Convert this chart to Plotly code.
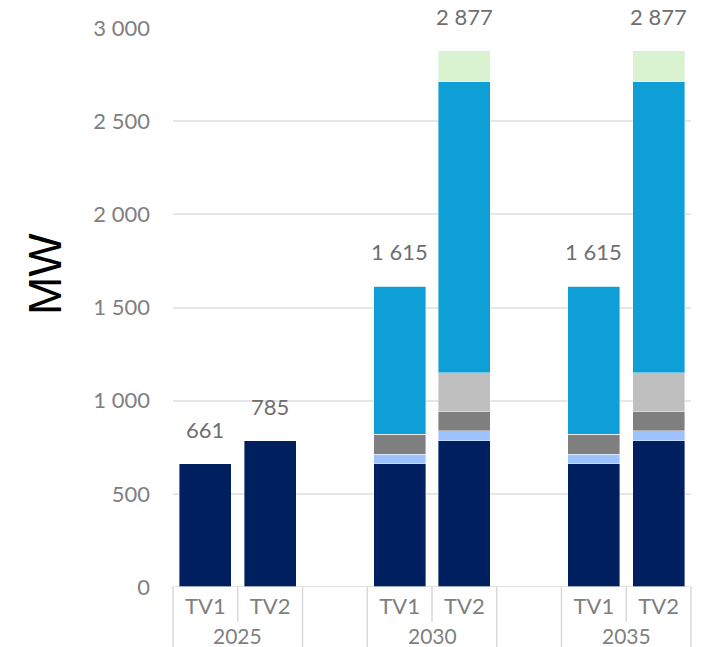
import plotly.graph_objects as go

# ---- data ----
categories = ["2025 TV1", "2025 TV2", "gap1", "2030 TV1", "2030 TV2", "gap2", "2035 TV1", "2035 TV2"]
tick_labels = ["TV1", "TV2", "", "TV1", "TV2", "", "TV1", "TV2"]
years = ["2025", "2030", "2035"]
year_slots = [(0, 2), (3, 5), (6, 8)]  # slot ranges (start, end) of each year group

series_names = ["Série 1", "Série 2", "Série 3", "Série 4", "Série 5", "Série 6"]
s1 = [661, 785, None, 661, 785, None, 661, 785]
s2 = [0, 0, None, 51, 54, None, 51, 54]
s3 = [0, 0, None, 109, 102, None, 109, 102]
s4 = [0, 0, None, 0, 208, None, 0, 208]
s5 = [0, 0, None, 794, 1562, None, 794, 1562]
s6 = [0, 0, None, 0, 166, None, 0, 166]
totals = [661, 785, None, 1615, 2877, None, 1615, 2877]

colors = ["#001f5f", "#9dc3ff", "#7f7f7f", "#bfbfbf", "#0e9fd6", "#d9f2d0"]

FONT = "Lato"
GRAY = "#7f7f7f"

fig = go.Figure()
for name, vals, col in zip(series_names, [s1, s2, s3, s4, s5, s6], colors):
    fig.add_trace(go.Bar(
        x=categories, y=vals, name=name, width=0.8,
        marker=dict(color=col, line=dict(color="rgba(255,255,255,0.5)", width=0.8)),
        hoverinfo="x+y+name",
    ))

# value labels above bars
for c, t in zip(categories, totals):
    if t is None:
        continue
    fig.add_annotation(
        x=c, y=t, xref="x", yref="y", text=f"{t:,}".replace(",", " "),
        showarrow=False, yanchor="bottom", yshift=19,
        font=dict(family=FONT, size=22, color="#6f6f6f"),
    )

n = len(categories)
line_col = "#d9d9d9"
# baseline
fig.add_shape(type="line", xref="paper", yref="y", x0=0, x1=1, y0=0, y1=0,
              line=dict(color=line_col, width=1.5))
# category box dividers
tall = {0, 2, 3, 5, 6, 8}
for k in range(n + 1):
    y1 = -0.12 if k in tall else -0.062
    fig.add_shape(type="line", xref="paper", yref="paper", x0=k / n, x1=k / n,
                  y0=0, y1=y1, line=dict(color=line_col, width=1.5))

# year labels
for yr, (a, b) in zip(years, year_slots):
    fig.add_annotation(
        x=(a + b) / 2 / n, y=-0.087, xref="paper", yref="paper", text=yr,
        showarrow=False, yanchor="middle", xanchor="center",
        font=dict(family=FONT, size=21, color=GRAY),
    )

# y title
fig.add_annotation(
    x=-0.247, y=0.56, xref="paper", yref="paper", text="MW", textangle=-90,
    showarrow=False, xanchor="center", yanchor="middle",
    font=dict(family="Liberation Sans", size=46, color="#000000"),
)

fig.update_layout(
    barmode="stack",
    width=704, height=647,
    margin=dict(l=173, r=13, t=28, b=60),
    paper_bgcolor="white", plot_bgcolor="white",
    showlegend=False,
    separators=". ",
    font=dict(family=FONT, size=22, color=GRAY),
    xaxis=dict(
        type="category", categoryorder="array", categoryarray=categories,
        range=[-0.5, n - 0.5],
        tickmode="array", tickvals=categories, ticktext=tick_labels,
        showgrid=False, showline=False, ticks="", zeroline=False,
        tickfont=dict(family=FONT, size=22, color=GRAY),
        ticklabelstandoff=4,
    ),
    yaxis=dict(
        range=[0, 3000], tickmode="array", tickvals=[0, 500, 1000, 1500, 2000, 2500, 3000],
        tickformat=",d", showgrid=True, gridcolor="#e6e6e6", gridwidth=1.5,
        zeroline=False, showline=False, ticks="",
        tickfont=dict(family=FONT, size=22, color=GRAY),
        ticklabelstandoff=22,
    ),
)

fig.write_html("out.html", config={"displayModeBar": False},
               post_script="document.body.style.margin='0';document.body.style.padding='0';")
